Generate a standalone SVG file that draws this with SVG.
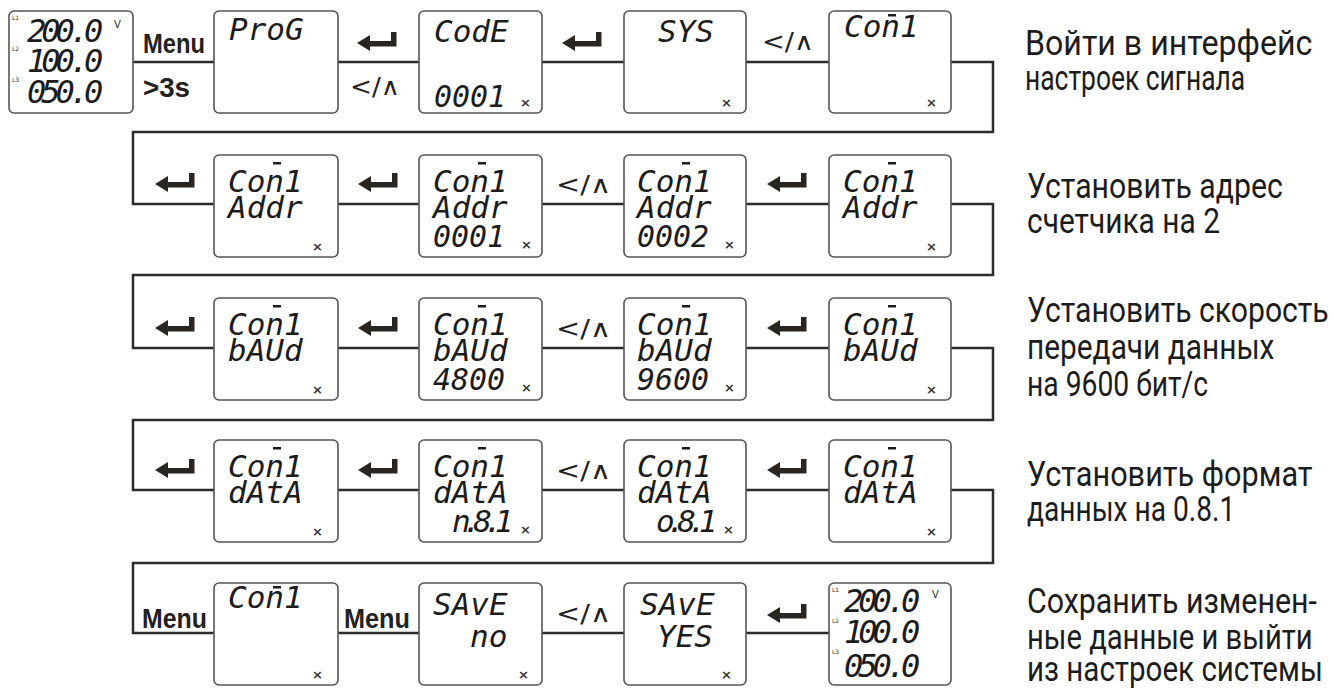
<svg xmlns="http://www.w3.org/2000/svg" xmlns:xlink="http://www.w3.org/1999/xlink" width="1334" height="688" viewBox="0 0 1334 688">
<style>
.box{fill:#fff;stroke:#555;stroke-width:1.6}
.conn{fill:none;stroke:#2b2b2b;stroke-width:2.5}
.lcd{font-family:"DejaVu Sans Mono",monospace;font-style:italic;font-size:31px;fill:#1c1c1c}
.big{font-size:32px}
.dsp{letter-spacing:-5px}
.tight{letter-spacing:-8px}
.sm{font-family:"DejaVu Sans",sans-serif;font-style:normal;font-size:6px;letter-spacing:0;fill:#333}
.v{font-family:"DejaVu Sans",sans-serif;font-style:normal;font-size:10px;letter-spacing:0;fill:#333}
.x{font-family:"DejaVu Sans",sans-serif;font-style:normal;font-size:13px;font-weight:bold;letter-spacing:0;fill:#333}
.bar{fill:#1c1c1c}
.key{font-family:"Liberation Sans",sans-serif;font-weight:bold;font-size:28px;fill:#222}
.nav{font-family:"DejaVu Sans",sans-serif;font-size:24px;fill:#222}
.desc{font-family:Roboto,"Liberation Sans",sans-serif;font-size:35px;fill:#1c1c1c}
.ent{fill:#2a2520}
</style>
<defs>
<path id="enter" class="ent" d="M0,11 L13,3 L13,9 L34,9 L34,0 L39.5,0 L39.5,14.5 L13,14.5 L13,19 Z"/>
</defs>
<rect width="1334" height="688" fill="#fff"/>
<g id="connectors">
<path class="conn" d="M133,62 H214 M338,62 H419 M542,62 H624 M746,62 H829 M951,62 H993 V132 H133 V204 H214 M338,204 H419 M542,204 H624 M746,204 H829 M951,204 H993 V275 H133 V348 H214 M338,348 H419 M542,348 H624 M746,348 H829 M951,348 H993 V420 H133 V490 H214 M338,490 H419 M542,490 H624 M746,490 H829 M951,490 H993 V563 H133 V633 H214 M338,633 H419 M542,633 H624 M746,633 H829"/>
<g id="labels">
<text class="key" x="143" y="53" textLength="62" lengthAdjust="spacingAndGlyphs">Menu</text>
<text class="key" x="143" y="97" textLength="47" lengthAdjust="spacingAndGlyphs">&gt;3s</text>
<use xlink:href="#enter" x="357" y="32"/>
<text class="nav" x="350" y="95" textLength="50" lengthAdjust="spacingAndGlyphs">&lt;/∧</text>
<use xlink:href="#enter" x="562" y="32"/>
<text class="nav" x="762" y="50" textLength="52" lengthAdjust="spacingAndGlyphs">&lt;/∧</text>
<use xlink:href="#enter" x="155" y="173"/>
<use xlink:href="#enter" x="358" y="173"/>
<text class="nav" x="556" y="193" textLength="55" lengthAdjust="spacingAndGlyphs">&lt;/∧</text>
<use xlink:href="#enter" x="767" y="173"/>
<use xlink:href="#enter" x="155" y="317"/>
<use xlink:href="#enter" x="358" y="317"/>
<text class="nav" x="556" y="337" textLength="55" lengthAdjust="spacingAndGlyphs">&lt;/∧</text>
<use xlink:href="#enter" x="767" y="317"/>
<use xlink:href="#enter" x="155" y="459"/>
<use xlink:href="#enter" x="358" y="459"/>
<text class="nav" x="556" y="479" textLength="55" lengthAdjust="spacingAndGlyphs">&lt;/∧</text>
<use xlink:href="#enter" x="767" y="459"/>
<text class="key" x="142" y="628" textLength="65" lengthAdjust="spacingAndGlyphs">Menu</text>
<text class="key" x="344" y="628" textLength="66" lengthAdjust="spacingAndGlyphs">Menu</text>
<text class="nav" x="556" y="622" textLength="55" lengthAdjust="spacingAndGlyphs">&lt;/∧</text>
<use xlink:href="#enter" x="767" y="604"/>
</g>
</g>

<!-- Row 1 -->
<g id="n-r1-display">
<rect class="box" x="9" y="11" width="124" height="102" rx="5"/>
<text class="lcd big"><tspan class="sm" x="12" y="20">L1</tspan><tspan class="dsp" x="27" y="42">200.0</tspan><tspan class="v" x="114" y="28">V</tspan><tspan class="sm" x="12" y="51">L2</tspan><tspan class="dsp" x="27" y="72">100.0</tspan><tspan class="sm" x="12" y="82">L3</tspan><tspan class="dsp" x="27" y="103">050.0</tspan></text>
</g>
<g id="n-r1-prog">
<rect class="box" x="214" y="11" width="124" height="102" rx="5"/>
<text class="lcd" x="229" y="40">ProG</text>
</g>
<g id="n-r1-code">
<rect class="box" x="419" y="11" width="123" height="102" rx="5"/>
<text class="lcd"><tspan x="434" y="42">CodE</tspan><tspan x="434" y="107" textLength="72" lengthAdjust="spacingAndGlyphs">0001</tspan><tspan class="x" x="520" y="107">×</tspan></text>
</g>
<g id="n-r1-sys">
<rect class="box" x="624" y="11" width="122" height="102" rx="5"/>
<text class="lcd"><tspan x="658" y="42">SYS</tspan><tspan class="x" x="721" y="107">×</tspan></text>
</g>
<g id="n-r1-con1">
<rect class="box" x="829" y="11" width="122" height="102" rx="5"/>
<rect class="bar" x="888" y="14" width="8" height="2.5"/>
<text class="lcd"><tspan x="844" y="37">Con1</tspan><tspan class="x" x="926" y="107">×</tspan></text>
</g>

<!-- Row 2 -->
<g id="n-r2-addr">
<rect class="box" x="214" y="155" width="124" height="102" rx="5"/>
<rect class="bar" x="273" y="162" width="8" height="2.5"/>
<text class="lcd"><tspan x="228" y="192">Con1</tspan><tspan x="228" y="218">Addr</tspan><tspan class="x" x="312" y="251">×</tspan></text>
</g>
<g id="n-r2-addr0001">
<rect class="box" x="419" y="155" width="123" height="102" rx="5"/>
<rect class="bar" x="478" y="162" width="8" height="2.5"/>
<text class="lcd"><tspan x="433" y="192">Con1</tspan><tspan x="433" y="218">Addr</tspan><tspan x="433" y="247" textLength="72" lengthAdjust="spacingAndGlyphs">0001</tspan><tspan class="x" x="521" y="249">×</tspan></text>
</g>
<g id="n-r2-addr0002">
<rect class="box" x="624" y="155" width="122" height="102" rx="5"/>
<rect class="bar" x="682" y="162" width="8" height="2.5"/>
<text class="lcd"><tspan x="637" y="192">Con1</tspan><tspan x="637" y="218">Addr</tspan><tspan x="637" y="247" textLength="72" lengthAdjust="spacingAndGlyphs">0002</tspan><tspan class="x" x="724" y="249">×</tspan></text>
</g>
<g id="n-r2-addr2">
<rect class="box" x="829" y="155" width="122" height="102" rx="5"/>
<rect class="bar" x="888" y="162" width="8" height="2.5"/>
<text class="lcd"><tspan x="843" y="192">Con1</tspan><tspan x="843" y="218">Addr</tspan><tspan class="x" x="926" y="251">×</tspan></text>
</g>

<!-- Row 3 -->
<g id="n-r3-baud">
<rect class="box" x="214" y="298" width="124" height="102" rx="5"/>
<rect class="bar" x="273" y="305" width="8" height="2.5"/>
<text class="lcd"><tspan x="228" y="335">Con1</tspan><tspan x="228" y="361">bAUd</tspan><tspan class="x" x="312" y="394">×</tspan></text>
</g>
<g id="n-r3-baud4800">
<rect class="box" x="419" y="298" width="123" height="102" rx="5"/>
<rect class="bar" x="478" y="305" width="8" height="2.5"/>
<text class="lcd"><tspan x="433" y="335">Con1</tspan><tspan x="433" y="361">bAUd</tspan><tspan x="433" y="390" textLength="72" lengthAdjust="spacingAndGlyphs">4800</tspan><tspan class="x" x="521" y="392">×</tspan></text>
</g>
<g id="n-r3-baud9600">
<rect class="box" x="624" y="298" width="122" height="102" rx="5"/>
<rect class="bar" x="682" y="305" width="8" height="2.5"/>
<text class="lcd"><tspan x="637" y="335">Con1</tspan><tspan x="637" y="361">bAUd</tspan><tspan x="637" y="390" textLength="72" lengthAdjust="spacingAndGlyphs">9600</tspan><tspan class="x" x="724" y="392">×</tspan></text>
</g>
<g id="n-r3-baud2">
<rect class="box" x="829" y="298" width="122" height="102" rx="5"/>
<rect class="bar" x="888" y="305" width="8" height="2.5"/>
<text class="lcd"><tspan x="843" y="335">Con1</tspan><tspan x="843" y="361">bAUd</tspan><tspan class="x" x="926" y="394">×</tspan></text>
</g>

<!-- Row 4 -->
<g id="n-r4-data">
<rect class="box" x="214" y="440" width="124" height="102" rx="5"/>
<rect class="bar" x="273" y="447" width="8" height="2.5"/>
<text class="lcd"><tspan x="228" y="477">Con1</tspan><tspan x="228" y="503">dAtA</tspan><tspan class="x" x="312" y="536">×</tspan></text>
</g>
<g id="n-r4-datan81">
<rect class="box" x="419" y="440" width="123" height="102" rx="5"/>
<rect class="bar" x="478" y="447" width="8" height="2.5"/>
<text class="lcd"><tspan x="433" y="477">Con1</tspan><tspan x="433" y="503">dAtA</tspan><tspan class="tight" x="452" y="532">n.8.1</tspan><tspan class="x" x="520" y="534">×</tspan></text>
</g>
<g id="n-r4-datao81">
<rect class="box" x="624" y="440" width="122" height="102" rx="5"/>
<rect class="bar" x="682" y="447" width="8" height="2.5"/>
<text class="lcd"><tspan x="637" y="477">Con1</tspan><tspan x="637" y="503">dAtA</tspan><tspan class="tight" x="656" y="532">o.8.1</tspan><tspan class="x" x="723" y="534">×</tspan></text>
</g>
<g id="n-r4-data2">
<rect class="box" x="829" y="440" width="122" height="102" rx="5"/>
<rect class="bar" x="888" y="447" width="8" height="2.5"/>
<text class="lcd"><tspan x="843" y="477">Con1</tspan><tspan x="843" y="503">dAtA</tspan><tspan class="x" x="926" y="536">×</tspan></text>
</g>

<!-- Row 5 -->
<g id="n-r5-con1">
<rect class="box" x="214" y="583" width="124" height="102" rx="5"/>
<rect class="bar" x="273" y="586" width="8" height="2.5"/>
<text class="lcd"><tspan x="228" y="608">Con1</tspan><tspan class="x" x="312" y="679">×</tspan></text>
</g>
<g id="n-r5-saveno">
<rect class="box" x="419" y="583" width="123" height="102" rx="5"/>
<text class="lcd"><tspan x="433" y="615">SAvE</tspan><tspan x="470" y="647">no</tspan><tspan class="x" x="518" y="679">×</tspan></text>
</g>
<g id="n-r5-saveyes">
<rect class="box" x="624" y="583" width="122" height="102" rx="5"/>
<text class="lcd"><tspan x="640" y="615">SAvE</tspan><tspan x="657" y="647">YES</tspan><tspan class="x" x="721" y="679">×</tspan></text>
</g>
<g id="n-r5-display">
<rect class="box" x="829" y="583" width="122" height="102" rx="5"/>
<text class="lcd big"><tspan class="sm" x="832" y="592">L1</tspan><tspan class="dsp" x="844" y="612">200.0</tspan><tspan class="v" x="932" y="598">V</tspan><tspan class="sm" x="832" y="623">L2</tspan><tspan class="dsp" x="844" y="643">100.0</tspan><tspan class="sm" x="832" y="654">L3</tspan><tspan class="dsp" x="844" y="677">050.0</tspan></text>
</g>

<!-- Descriptions -->
<g id="descriptions">
<text class="desc" transform="translate(1025,55) scale(0.85,1)" textLength="338" lengthAdjust="spacingAndGlyphs">Войти в интерфейс</text>
<text class="desc" transform="translate(1025,90) scale(0.85,1)" textLength="259" lengthAdjust="spacingAndGlyphs">настроек сигнала</text>
<text class="desc" transform="translate(1027,198) scale(0.85,1)" textLength="301" lengthAdjust="spacingAndGlyphs">Установить адрес</text>
<text class="desc" transform="translate(1027,233) scale(0.85,1)" textLength="227" lengthAdjust="spacingAndGlyphs">счетчика на 2</text>
<text class="desc" transform="translate(1027,322) scale(0.85,1)" textLength="355" lengthAdjust="spacingAndGlyphs">Установить скорость</text>
<text class="desc" transform="translate(1027,359) scale(0.85,1)" textLength="291" lengthAdjust="spacingAndGlyphs">передачи данных</text>
<text class="desc" transform="translate(1027,396) scale(0.85,1)" textLength="213" lengthAdjust="spacingAndGlyphs">на 9600 бит/с</text>
<text class="desc" transform="translate(1027,486) scale(0.85,1)" textLength="336" lengthAdjust="spacingAndGlyphs">Установить формат</text>
<text class="desc" transform="translate(1027,521) scale(0.85,1)" textLength="245" lengthAdjust="spacingAndGlyphs">данных на 0.8.1</text>
<text class="desc" transform="translate(1027,613) scale(0.85,1)" textLength="341" lengthAdjust="spacingAndGlyphs">Сохранить изменен-</text>
<text class="desc" transform="translate(1027,649) scale(0.85,1)" textLength="336" lengthAdjust="spacingAndGlyphs">ные данные и выйти</text>
<text class="desc" transform="translate(1027,681) scale(0.85,1)" textLength="348" lengthAdjust="spacingAndGlyphs">из настроек системы</text>
</g>
</svg>
